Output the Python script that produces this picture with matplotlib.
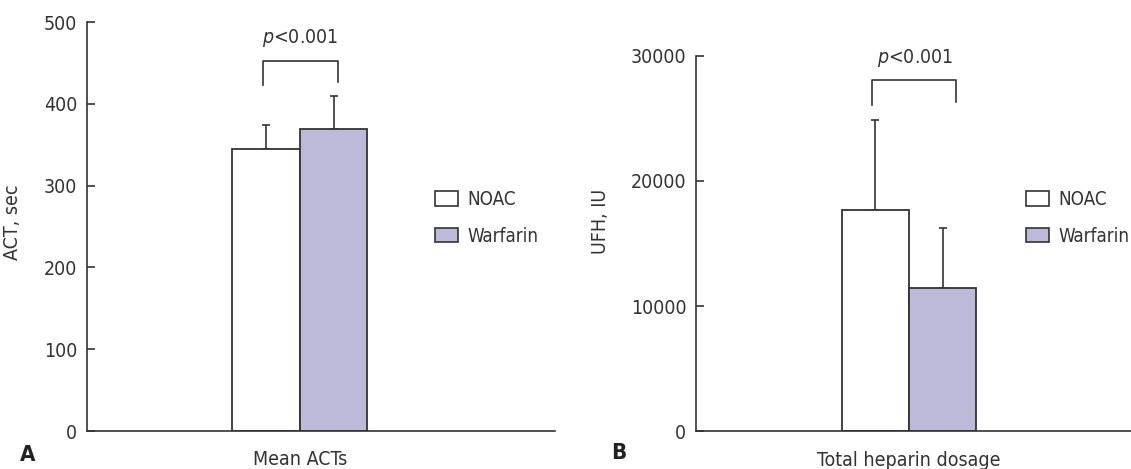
import matplotlib.pyplot as plt
from matplotlib.patches import Patch

plt.rcParams['font.family'] = ['DejaVu Sans']
plt.rcParams['font.stretch'] = 'condensed'

groups = ["NOAC", "Warfarin"]
colors = ["white", "#bcbad8"]

act_mean = [345, 369]
act_err = [29, 41]
ufh_mean = [17700, 11450]
ufh_err = [7200, 4750]

dark = "#333333"
fs = 14

fig = plt.figure(figsize=(11.31, 4.69), dpi=100)
axA = fig.add_axes([0.0769, 0.081, 0.4138, 0.872])
axB = fig.add_axes([0.6154, 0.0804, 0.3846, 0.8008])


def draw(ax, means, errs, ylim, ticks, xlab, ylab, xr):
    xs = [-0.5, 0.5]
    for x, m, e, c in zip(xs, means, errs, colors):
        ax.bar(x, m, width=1.0, color=c, edgecolor=dark, linewidth=1.3, zorder=2)
        ax.errorbar(x, m, yerr=[[0], [e]], color=dark, elinewidth=1.2,
                    capsize=3, capthick=1.2, zorder=1)
    ax.set_xlim(-3.156, xr)
    ax.set_ylim(*ylim)
    ax.set_yticks(ticks)
    ax.set_xticks([0])
    ax.set_xticklabels([xlab])
    ax.spines[["top", "right"]].set_visible(False)
    for s in ["left", "bottom"]:
        ax.spines[s].set_color(dark)
        ax.spines[s].set_linewidth(1.2)
    ax.tick_params(axis="y", direction="in", length=6, width=1.2, color=dark,
                   labelsize=fs, labelcolor=dark, pad=7)
    ax.tick_params(axis="x", length=0, labelsize=fs, labelcolor=dark, pad=14)
    ax.set_ylabel(ylab, fontsize=fs, color=dark)


draw(axA, act_mean, act_err, (0, 500), [0, 100, 200, 300, 400, 500],
     "Mean ACTs", "ACT, sec", 3.78)
draw(axB, ufh_mean, ufh_err, (0, 30000), [0, 10000, 20000, 30000],
     "Total heparin dosage", "UFH, IU", 3.29)

axA.yaxis.set_label_coords(-0.139, 0.511)
axB.yaxis.set_label_coords(-0.198, 0.558)

# significance brackets
axA.plot([-0.548, -0.548, 0.563, 0.563], [423, 452.7, 452.7, 427],
         color=dark, lw=1.2, clip_on=False)
axA.text(0.0, 480, r"$\it{p}$<0.001", ha="center", va="center",
         fontsize=fs, color=dark)
axB.plot([-0.553, -0.553, 0.69, 0.69], [26063, 28059, 28059, 26326],
         color=dark, lw=1.2, clip_on=False)
axB.text(0.09, 29840, r"$\it{p}$<0.001", ha="center", va="center",
         fontsize=fs, color=dark)

# legends
lfs = 13.5
handles = [Patch(facecolor=c, edgecolor=dark, linewidth=1.2) for c in colors]
for lx in [435, 1026]:
    fig.legend(handles, groups, loc="upper left",
               bbox_to_anchor=(lx / 1131, 1 - 190 / 469),
               bbox_transform=fig.transFigure, frameon=False, fontsize=lfs,
               labelcolor=dark, handlelength=1.25, handleheight=0.8,
               handletextpad=0.5, labelspacing=0.95, borderpad=0,
               borderaxespad=0)

fig.text(28 / 1131, 1 - 455 / 469, "A", fontsize=16, fontweight="bold",
         color="#222222", ha="center", va="center")
fig.text(619 / 1131, 1 - 453 / 469, "B", fontsize=16, fontweight="bold",
         color="#222222", ha="center", va="center")

fig.savefig("out.png", dpi=100)
